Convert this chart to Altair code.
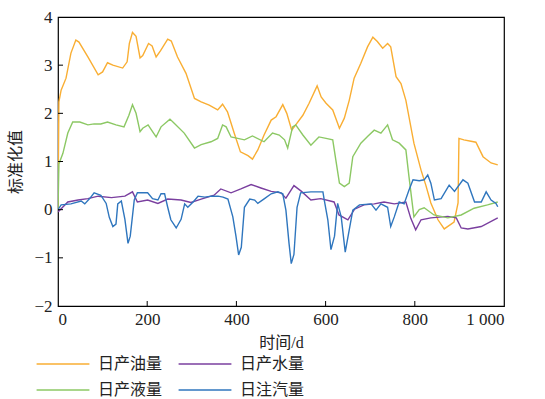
import altair as alt
import pandas as pd

oil_x = [0, 2, 7, 18, 29, 40, 47, 67, 90, 100, 111, 123, 145, 155, 160, 167, 175, 184, 190, 203, 211, 220, 230, 246, 254, 268, 287, 306, 321, 339, 358, 369, 380, 395, 409, 426, 436, 448, 462, 478, 489, 504, 513, 524, 533, 549, 563, 581, 590, 601, 616, 631, 642, 653, 664, 679, 694, 706, 716, 728, 739, 746, 758, 769, 780, 798, 814, 825, 836, 852, 866, 888, 897, 899, 910, 926, 937, 953, 971, 986]
oil_y = [0.0, 2.24, 2.48, 2.73, 3.25, 3.52, 3.48, 3.17, 2.8, 2.86, 3.05, 3.0, 2.94, 3.07, 3.45, 3.68, 3.6, 3.15, 3.2, 3.45, 3.4, 3.17, 3.3, 3.54, 3.5, 3.17, 2.83, 2.31, 2.24, 2.17, 2.07, 2.19, 2.03, 1.59, 1.2, 1.12, 1.05, 1.24, 1.55, 1.86, 1.93, 2.18, 2.0, 1.65, 1.76, 1.96, 2.21, 2.57, 2.34, 2.21, 2.07, 1.69, 1.9, 2.27, 2.73, 3.04, 3.38, 3.58, 3.49, 3.35, 3.45, 3.38, 2.76, 2.62, 2.27, 1.38, 0.82, 0.5, 0.14, -0.21, -0.4, -0.26, 0.14, 1.48, 1.45, 1.42, 1.4, 1.1, 0.97, 0.93]

water_x = [0, 22, 45, 67, 90, 120, 150, 167, 178, 201, 224, 246, 276, 298, 321, 350, 365, 388, 410, 433, 455, 478, 500, 511, 529, 546, 567, 589, 619, 630, 650, 665, 686, 709, 731, 754, 780, 791, 802, 814, 836, 874, 893, 904, 919, 949, 986]
water_y = [-0.05, 0.16, 0.2, 0.23, 0.28, 0.25, 0.28, 0.37, 0.16, 0.2, 0.13, 0.22, 0.2, 0.15, 0.22, 0.3, 0.43, 0.35, 0.43, 0.52, 0.45, 0.38, 0.35, 0.24, 0.5, 0.38, 0.2, 0.23, 0.16, -0.11, -0.21, 0.01, 0.1, 0.12, 0.16, 0.12, 0.16, -0.18, -0.42, -0.21, -0.17, -0.14, -0.17, -0.38, -0.4, -0.35, -0.17]

liquid_x = [0, 2, 11, 22, 33, 49, 67, 81, 96, 111, 130, 148, 159, 167, 175, 184, 190, 202, 212, 220, 231, 251, 260, 283, 306, 321, 343, 358, 369, 377, 388, 403, 418, 436, 462, 481, 496, 508, 515, 526, 533, 549, 567, 585, 601, 616, 623, 631, 642, 653, 661, 679, 694, 709, 724, 739, 750, 765, 780, 787, 798, 810, 821, 843, 874, 904, 933, 963, 986]
liquid_y = [0.0, 0.95, 1.17, 1.59, 1.82, 1.82, 1.76, 1.78, 1.78, 1.82, 1.76, 1.72, 1.96, 2.18, 2.0, 1.62, 1.69, 1.76, 1.62, 1.51, 1.72, 1.88, 1.8, 1.59, 1.28, 1.35, 1.41, 1.48, 1.76, 1.72, 1.51, 1.48, 1.45, 1.53, 1.41, 1.59, 1.55, 1.45, 1.28, 1.72, 1.76, 1.55, 1.34, 1.51, 1.48, 1.45, 1.03, 0.55, 0.48, 0.55, 1.1, 1.38, 1.52, 1.65, 1.59, 1.76, 1.45, 1.38, 1.24, 0.68, -0.15, 0.0, 0.04, -0.11, -0.17, -0.11, 0.03, 0.1, 0.16]

steam_x = [0, 7, 29, 52, 60, 71, 81, 96, 108, 115, 123, 130, 134, 142, 150, 157, 162, 171, 178, 201, 212, 224, 231, 239, 246, 253, 265, 276, 284, 291, 303, 314, 329, 344, 359, 370, 381, 392, 399, 405, 411, 418, 430, 441, 448, 463, 478, 493, 504, 511, 518, 523, 529, 536, 544, 567, 594, 597, 605, 612, 620, 627, 635, 644, 653, 661, 676, 702, 713, 724, 739, 746, 754, 765, 776, 787, 796, 810, 821, 829, 836, 844, 859, 877, 889, 908, 919, 934, 949, 960, 971, 982, 986]
steam_y = [0.0, 0.1, 0.12, 0.18, 0.12, 0.23, 0.35, 0.3, 0.13, -0.16, -0.35, -0.3, 0.12, 0.18, -0.2, -0.7, -0.55, 0.2, 0.35, 0.35, 0.23, 0.2, 0.33, 0.33, 0.05, -0.21, -0.38, -0.2, 0.12, 0.05, 0.16, 0.28, 0.26, 0.28, 0.28, 0.26, 0.22, -0.15, -0.55, -0.94, -0.78, 0.05, 0.22, 0.2, 0.13, 0.23, 0.33, 0.37, 0.33, -0.01, -0.7, -1.12, -0.93, 0.05, 0.35, 0.37, 0.37, 0.2, -0.21, -0.83, -0.55, 0.13, -0.15, -0.88, -0.42, -0.01, 0.1, 0.12, -0.01, 0.12, 0.05, -0.35, -0.15, 0.16, 0.12, 0.41, 0.62, 0.6, 0.62, 0.72, 0.55, 0.2, 0.23, 0.51, 0.38, 0.62, 0.55, 0.16, 0.16, 0.37, 0.2, 0.13, 0.06]

# legend is filled column by column: column 1 = 油, 液 ; column 2 = 水, 汽
series_names = ["日产油量", "日产液量", "日产水量", "日注汽量"]
series_colors = ["#F9AE33", "#8CC864", "#7A3F9F", "#2F76BE"]

x_ticks = [200, 400, 600, 800]
y_ticks = [-1, 0, 1, 2, 3]

rows = []
for name, xs, ys in [
    ("日产油量", oil_x, oil_y),
    ("日产水量", water_x, water_y),
    ("日产液量", liquid_x, liquid_y),
    ("日注汽量", steam_x, steam_y),
]:
    for i, (a, b) in enumerate(zip(xs, ys)):
        rows.append({"t": a, "v": b, "s": name, "o": i})
df = pd.DataFrame(rows)

W, H = 446, 289
serif = "Liberation Serif, Times New Roman, Noto Sans CJK SC"
cjk = "Liberation Serif, Noto Sans CJK SC"

xscale = alt.Scale(domain=[0, 1000], nice=False)
yscale = alt.Scale(domain=[-2, 4], nice=False)

lines = alt.Chart(df).mark_line(strokeWidth=1.4, clip=True).encode(
    x=alt.X("t:Q", scale=xscale,
            axis=alt.Axis(title="时间/d", values=[0, 200, 400, 600, 800, 1000],
                          tickSize=0, labelPadding=5, titlePadding=7,
                          labelExpr="datum.value == 1000 ? '1 000' : datum.label",
                          grid=False)),
    y=alt.Y("v:Q", scale=yscale,
            axis=alt.Axis(title="标准化值", values=[-2, -1, 0, 1, 2, 3, 4],
                          tickSize=0, labelPadding=6, titlePadding=10,
                          grid=False)),
    color=alt.Color("s:N", scale=alt.Scale(domain=series_names, range=series_colors),
                    legend=alt.Legend(title=None, orient="none", legendX=-5, legendY=337,
                                      columns=2, symbolType="M-3,0L3,0", symbolSize=310,
                                      symbolStrokeWidth=1.5, labelFontSize=16,
                                      labelFont="Noto Sans CJK SC", labelColor="#222",
                                      columnPadding=12, rowPadding=8, labelOffset=25)),
    order="o:Q",
)

xt = alt.Chart(pd.DataFrame({"t": x_ticks})).mark_rule(color="black", strokeWidth=1).encode(
    x=alt.X("t:Q", scale=xscale), y=alt.value(H), y2=alt.value(H - 5))
yt = alt.Chart(pd.DataFrame({"v": y_ticks})).mark_rule(color="black", strokeWidth=1).encode(
    y=alt.Y("v:Q", scale=yscale), x=alt.value(0), x2=alt.value(5))

chart = alt.layer(lines, xt, yt).properties(
    width=W, height=H,
    background="white",
    autosize=alt.AutoSizeParams(type="none"),
    padding={"left": 58, "top": 17, "right": 41, "bottom": 93},
).configure_view(stroke="black", strokeWidth=1.2).configure_axis(
    labelFont=serif, labelFontSize=17, labelColor="#222",
    titleFont=cjk, titleFontSize=16, titleFontWeight="normal", titleColor="#222",
    domain=False,
)

chart.save("out.html", embed_options={"renderer": "svg", "actions": False})
